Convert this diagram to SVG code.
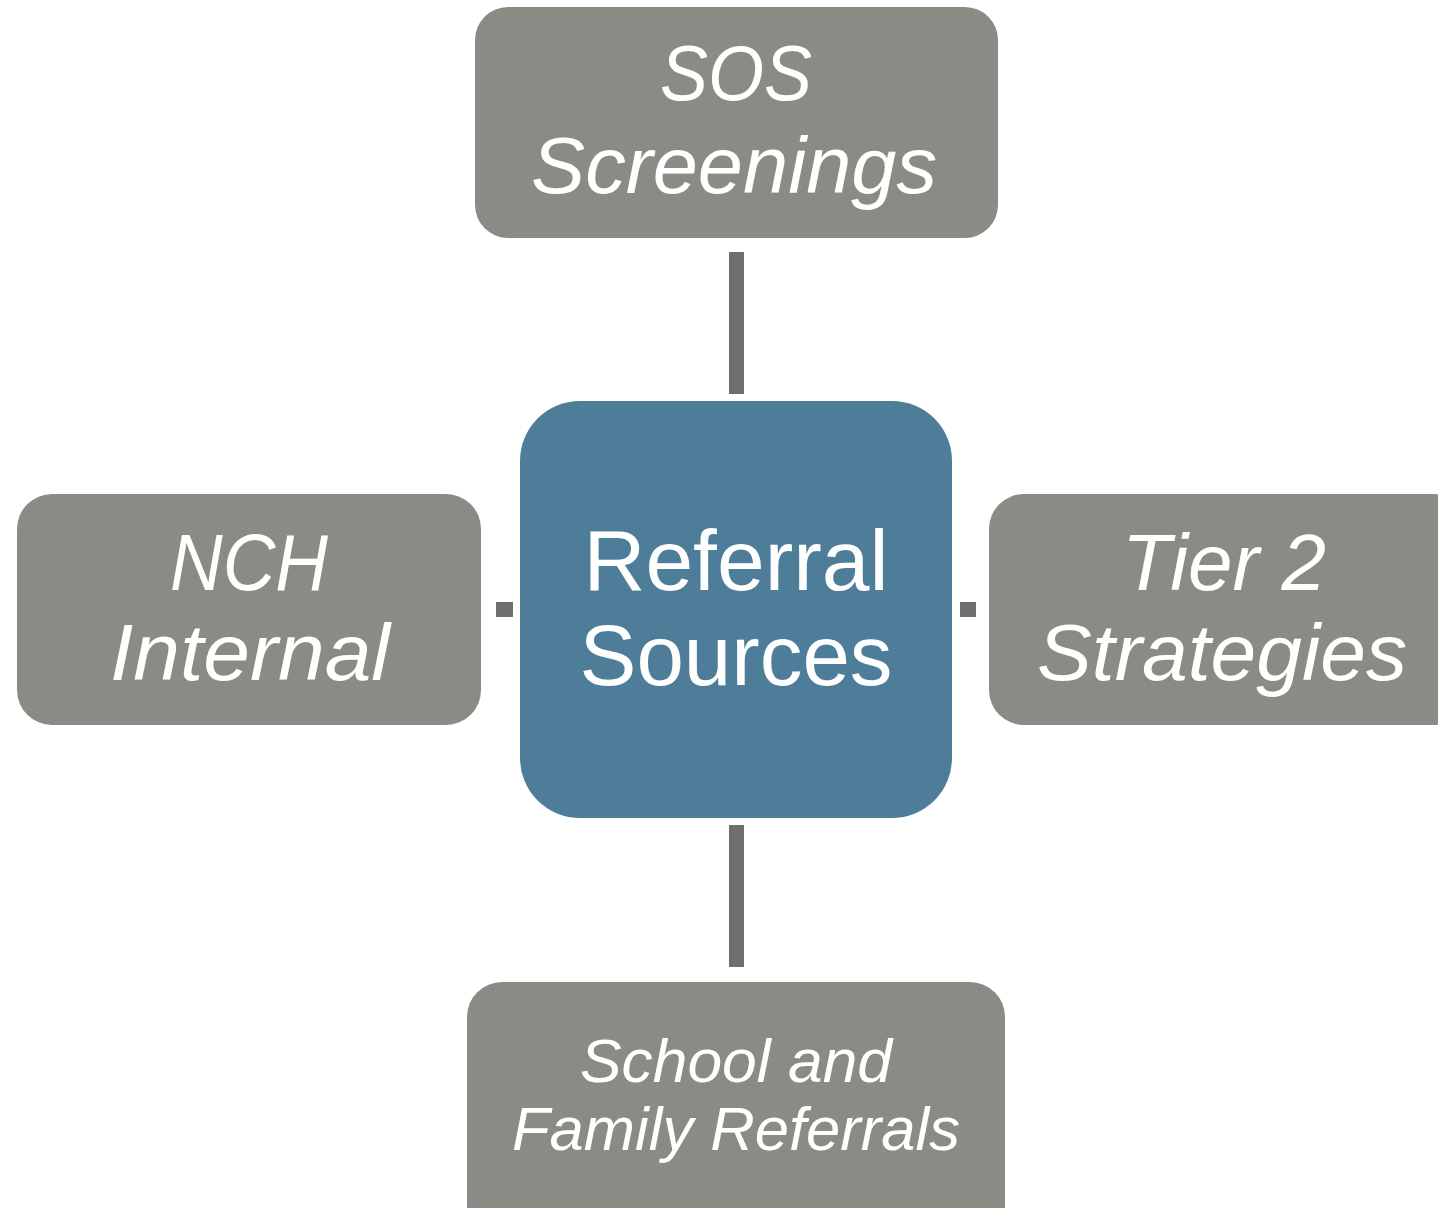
<svg xmlns="http://www.w3.org/2000/svg" width="1438" height="1208" viewBox="0 0 1438 1208">
  <style>
    .box { fill: #8b8b85; }
    .hub { fill: #4e7d9a; }
    .link { fill: #6f6f6b; }
    .lbl { fill: #ffffff; font-family: "Liberation Sans", Arial, sans-serif; text-anchor: middle; }
    .it { font-style: italic; }
  </style>
  <rect width="1438" height="1208" fill="#ffffff"/>

  <!-- short bars joining the hub to each source box -->
  <g id="connectors">
    <rect class="link" x="729" y="252" width="15" height="142"/>
    <rect class="link" x="729" y="825" width="15" height="142"/>
    <rect class="link" x="496" y="602" width="17" height="15"/>
    <rect class="link" x="960" y="602" width="16" height="15"/>
  </g>

  <g id="sos-screenings">
    <rect class="box" x="475" y="7" width="523" height="231" rx="33" ry="33"/>
    <text class="lbl it" x="736" y="100" font-size="78" textLength="152" lengthAdjust="spacingAndGlyphs">SOS</text>
    <text class="lbl it" x="734" y="193" font-size="80" textLength="406" lengthAdjust="spacingAndGlyphs">Screenings</text>
  </g>

  <g id="nch-internal">
    <rect class="box" x="17" y="494" width="464" height="231" rx="35" ry="35"/>
    <text class="lbl it" x="249" y="590" font-size="80" textLength="158" lengthAdjust="spacingAndGlyphs">NCH</text>
    <text class="lbl it" x="250" y="680" font-size="80" textLength="280" lengthAdjust="spacingAndGlyphs">Internal</text>
  </g>

  <g id="tier2-strategies">
    <rect class="box" x="989" y="494" width="480" height="231" rx="35" ry="35"/>
    <text class="lbl it" x="1224" y="590" font-size="80" textLength="204" lengthAdjust="spacingAndGlyphs">Tier 2</text>
    <text class="lbl it" x="1222" y="680" font-size="80" textLength="370" lengthAdjust="spacingAndGlyphs">Strategies</text>
  </g>

  <g id="school-family">
    <rect class="box" x="467" y="982" width="538" height="260" rx="35" ry="35"/>
    <text class="lbl it" x="736" y="1082" font-size="61" textLength="312" lengthAdjust="spacingAndGlyphs">School and</text>
    <text class="lbl it" x="736" y="1150" font-size="61" textLength="448" lengthAdjust="spacingAndGlyphs">Family Referrals</text>
  </g>

  <g id="referral-sources">
    <rect class="hub" x="520" y="401" width="432" height="417" rx="60" ry="60"/>
    <text class="lbl" x="736" y="590" font-size="86" textLength="305" lengthAdjust="spacingAndGlyphs">Referral</text>
    <text class="lbl" x="736" y="685" font-size="86" textLength="313" lengthAdjust="spacingAndGlyphs">Sources</text>
  </g>
</svg>
